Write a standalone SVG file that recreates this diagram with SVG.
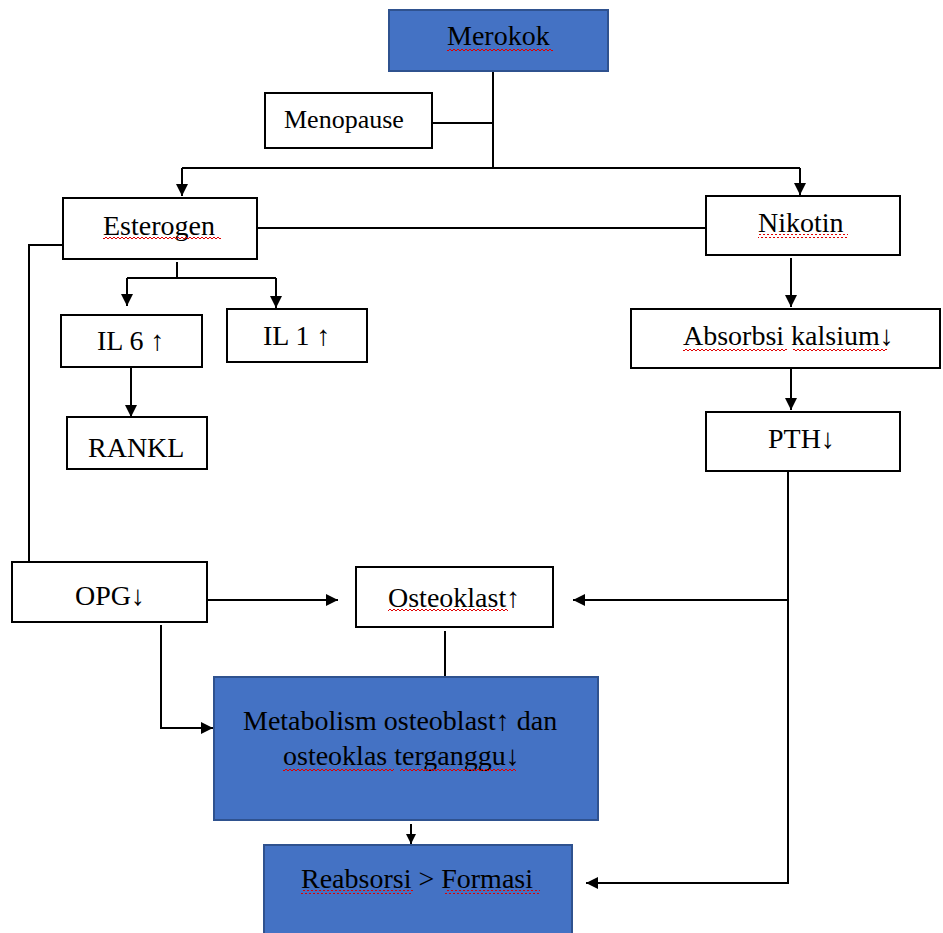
<svg xmlns="http://www.w3.org/2000/svg" width="943" height="933" viewBox="0 0 943 933">
<style>
.box{fill:#fff;stroke:#000;stroke-width:2}
.blue{fill:#4472C4;stroke:#2F528F;stroke-width:2}
.t{font-family:"Liberation Serif","Times New Roman",serif;font-size:28px;fill:#000}
.ln{fill:none;stroke:#000;stroke-width:2}
.wv{fill:url(#wavy)}
</style>
<defs>
<marker id="ah" viewBox="0 0 12 12" refX="12" refY="6" markerWidth="12" markerHeight="12" markerUnits="userSpaceOnUse" orient="auto">
<path d="M0,0 L12,6 L0,12 Z" fill="#000"/>
</marker>
<marker id="ahs" viewBox="0 0 10 10" refX="10" refY="5" markerWidth="10" markerHeight="10" markerUnits="userSpaceOnUse" orient="auto">
<path d="M0,0 L10,5 L0,10 Z" fill="#000"/>
</marker>
<pattern id="wavy" width="4" height="4" patternUnits="userSpaceOnUse">
<path d="M0,3 L2,1 L4,3" fill="none" stroke="#e00000" stroke-width="1"/>
</pattern>
</defs>

<g id="connectors">
<path class="ln" d="M493,71 V168"/>
<path class="ln" d="M432,123 H493"/>
<path class="ln" d="M182,168 H800"/>
<path class="ln" d="M182,168 V196" marker-end="url(#ah)"/>
<path class="ln" d="M800,168 V195" marker-end="url(#ah)"/>
<path class="ln" d="M257,228 H706"/>
<path class="ln" d="M63,245 H29 V562"/>
<path class="ln" d="M177,262 V278 M127,278 H276"/>
<path class="ln" d="M127,278 V306" marker-end="url(#ah)"/>
<path class="ln" d="M276,278 V308" marker-end="url(#ah)"/>
<path class="ln" d="M131,367 V417" marker-end="url(#ah)"/>
<path class="ln" d="M791,258 V307" marker-end="url(#ah)"/>
<path class="ln" d="M791,368 V410" marker-end="url(#ah)"/>
<path class="ln" d="M788,471 V883 H586" marker-end="url(#ah)"/>
<path class="ln" d="M788,600 H573" marker-end="url(#ah)"/>
<path class="ln" d="M207,600 H338" stroke-width="3" marker-end="url(#ah)"/>
<path class="ln" d="M445,631 V677"/>
<path class="ln" d="M161,625 V728 H213" marker-end="url(#ah)"/>
<path class="ln" d="M411,824 V844" marker-end="url(#ahs)"/>
</g>

<g id="merokok">
<rect class="blue" x="389" y="10" width="219" height="61"/>
<text class="t" x="447" y="45">Merokok</text>
<rect class="wv" x="447" y="47" width="106" height="4"/>
</g>
<g id="menopause">
<rect class="box" x="265" y="93" width="167" height="55"/>
<text class="t" x="284" y="128" style="font-size:26px">Menopause</text>
</g>
<g id="esterogen">
<rect class="box" x="63" y="198" width="194" height="61"/>
<text class="t" x="103" y="235">Esterogen</text>
<rect class="wv" x="103" y="237" width="118" height="4"/>
</g>
<g id="nikotin">
<rect class="box" x="706" y="196" width="194" height="59"/>
<text class="t" x="758" y="232">Nikotin</text>
<rect class="wv" x="758" y="234" width="90" height="4"/>
</g>
<g id="il6">
<rect class="box" x="61" y="315" width="141" height="52"/>
<text class="t" x="97" y="350">IL 6 ↑</text>
</g>
<g id="il1">
<rect class="box" x="227" y="309" width="140" height="53"/>
<text class="t" x="263" y="345">IL 1 ↑</text>
</g>
<g id="rankl">
<rect class="box" x="67" y="417" width="140" height="52"/>
<text class="t" x="88" y="457">RANKL</text>
</g>
<g id="absorbsi">
<rect class="box" x="631" y="309" width="309" height="59"/>
<text class="t" x="683" y="345">Absorbsi kalsium↓</text>
<rect class="wv" x="683" y="347" width="104" height="4"/>
<rect class="wv" x="793" y="347" width="94" height="4"/>
</g>
<g id="pth">
<rect class="box" x="706" y="412" width="194" height="59"/>
<text class="t" x="768" y="448">PTH↓</text>
</g>
<g id="opg">
<rect class="box" x="12" y="562" width="195" height="60"/>
<text class="t" x="75" y="605">OPG↓</text>
</g>
<g id="osteoklast">
<rect class="box" x="356" y="567" width="197" height="60"/>
<text class="t" x="388" y="607">Osteoklast↑</text>
<rect class="wv" x="388" y="609" width="120" height="4"/>
</g>
<g id="metabolism">
<rect class="blue" x="214" y="677" width="384" height="143"/>
<text class="t" x="243" y="730">Metabolism osteoblast↑ dan</text>
<text class="t" x="283" y="765">osteoklas terganggu↓</text>
<rect class="wv" x="283" y="767" width="111" height="4"/>
<rect class="wv" x="400" y="767" width="116" height="4"/>
</g>
<g id="reabsorsi">
<rect class="blue" x="264" y="845" width="308" height="95"/>
<text class="t" x="301" y="888">Reabsorsi &gt; Formasi</text>
<rect class="wv" x="301" y="890" width="112" height="4"/>
<rect class="wv" x="445" y="890" width="95" height="4"/>
</g>
</svg>
